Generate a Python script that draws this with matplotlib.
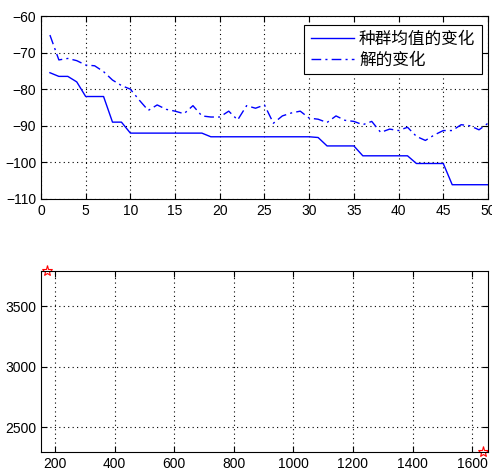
import matplotlib.pyplot as plt
import numpy as np

plt.rcParams['font.family'] = ['Liberation Sans', 'Noto Sans CJK SC', 'DejaVu Sans']

# generations 1..50
gen = np.arange(1, 51)
mean_change = [-75.5, -76.5, -76.5, -78, -82, -82, -82, -89, -89, -92,
               -92, -92, -92, -92, -92, -92, -92, -92, -93, -93,
               -93, -93, -93, -93, -93, -93, -93, -93, -93, -93,
               -93.2, -95.5, -95.5, -95.5, -95.5, -98.2, -98.2, -98.2, -98.2, -98.2,
               -98.2, -100.3, -100.3, -100.3, -100.3, -106.1, -106.1, -106.1, -106.1, -106.1]
best_change = [-65.2, -72, -71.6, -72.2, -73.4, -73.6, -75.2, -77.5, -79, -80,
               -83, -85.8, -84.3, -85.5, -86, -86.7, -84.5, -87.3, -87.6, -87.6,
               -86, -88.4, -84.5, -85.2, -84.3, -89.3, -87.3, -86.5, -86, -87.9,
               -88.2, -89.1, -87.3, -88.5, -88.8, -89.7, -88.8, -91.8, -90.9, -91.3,
               -90.4, -92.9, -94, -92.5, -91.3, -91.3, -89.7, -90, -91.1, -89.3]
legend_labels = ['种群均值的变化', '解的变化']

# red star points in lower panel
pt_x = [172, 1637]
pt_y = [3791, 2297]

fig = plt.figure(figsize=(4.92, 4.72), dpi=100)

ax1 = fig.add_axes([0.0833, 0.5784, 0.9085, 0.3877])
ax1.plot(gen, mean_change, color='#0000ff', lw=1.0, label=legend_labels[0])
ax1.plot(gen, best_change, color='#0000ff', lw=1.0, ls=(0, (7, 3, 1.5, 3)),
         label=legend_labels[1])
ax1.set_xlim(0, 50)
ax1.set_ylim(-110, -60)
ax1.set_xticks(range(0, 51, 5))
ax1.set_yticks(range(-110, -59, 10))
leg = ax1.legend(loc='upper right', bbox_to_anchor=(0.987, 0.951), borderaxespad=0,
                 fancybox=False, framealpha=1, edgecolor='black', fontsize=12,
                 handlelength=2.6, borderpad=0.4, labelspacing=0.3, handletextpad=0.3)
leg.get_frame().set_linewidth(0.8)

ax2 = fig.add_axes([0.0833, 0.0424, 0.9085, 0.3841])
ax2.plot(pt_x, pt_y, ls='none', marker='*', ms=8, mfc='none', mec='red', mew=0.8,
         clip_on=False)
ax2.set_xlim(153, 1653)
ax2.set_ylim(2297, 3791)
ax2.set_xticks(range(200, 1601, 200))
ax2.set_yticks([2500, 3000, 3500])

for ax in (ax1, ax2):
    ax.grid(True, color='black', ls=(0, (1, 3)), lw=0.8)
    ax.tick_params(direction='in', top=True, right=True, labelsize=10, length=4, width=0.8)
    for s in ax.spines.values():
        s.set_linewidth(0.8)

plt.savefig('out.png', dpi=100)
